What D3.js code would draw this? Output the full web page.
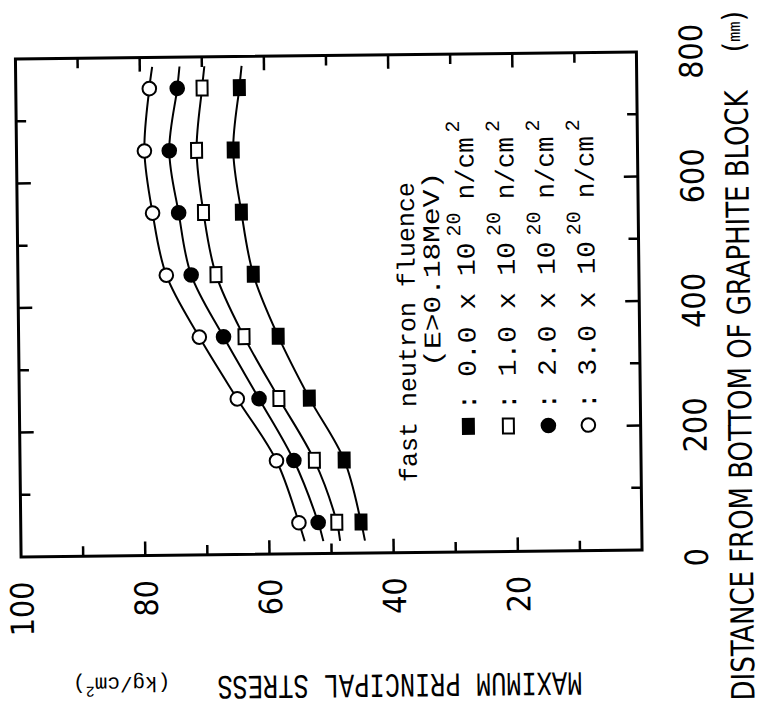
<!DOCTYPE html>
<html>
<head>
<meta charset="utf-8">
<script src="https://cdn.jsdelivr.net/npm/d3@7"></script>
<style>
  body { margin: 0; background: #fff; }
  svg { display: block; }
  .narrow { font-family: "Liberation Sans Narrow", "DejaVu Sans Condensed", "Roboto", sans-serif; }
  .mono { font-family: "Liberation Mono", "DejaVu Sans Mono", monospace; }
</style>
</head>
<body>
<script>
// distance from bottom of graphite block (mm) where stress was evaluated
const distances = [50, 150, 250, 350, 450, 550, 650, 750]
// maximum principal stress (kg/cm2), one list per fluence level
const stress00 = [45.2, 47.8, 53.3, 58.2, 62.1, 63.9, 65.1, 64.0]
const stress10 = [49.1, 52.6, 58.2, 63.7, 68.1, 70.0, 71.0, 70.0]
const stress20 = [52.1, 55.9, 61.4, 67.0, 72.1, 74.0, 75.4, 74.0]
const stress30 = [55.2, 58.7, 64.9, 70.9, 76.1, 78.2, 79.4, 78.5]
// where the drawn curves start/stop
const curveEndDist = [20, 785]
const curveEnd00 = [44.6, 63.6]
const curveEnd10 = [48.6, 69.6]
const curveEnd20 = [51.3, 73.6]
const curveEnd30 = [54.3, 78.0]

const fluenceLabels = ['0.0', '1.0', '2.0', '3.0']
const markerKinds = ['filledSquare', 'openSquare', 'filledCircle', 'openCircle']
const distTickLabels = [0, 200, 400, 600, 800]
const stressTickLabels = [20, 40, 60, 80, 100]

const series = [
  { vals: stress00, ends: curveEnd00, kind: markerKinds[0] },
  { vals: stress10, ends: curveEnd10, kind: markerKinds[1] },
  { vals: stress20, ends: curveEnd20, kind: markerKinds[2] },
  { vals: stress30, ends: curveEnd30, kind: markerKinds[3] }
]

const W = 772, H = 717
const svg = d3.select('body').append('svg')
  .attr('width', W)
  .attr('height', H)

// the whole figure is drawn upright, then turned on its side like the scan
const root = svg.append('g')
  .attr('transform', `rotate(-0.65 329 305) translate(0,${H}) rotate(-90)`)

const x = d3.scaleLinear().domain([0, 800]).range([163.5, 661.5])
const y = d3.scaleLinear().domain([0, 100]).range([639.25, 18.25])

// frame
root.append('rect')
  .attr('x', x(0)).attr('y', y(100))
  .attr('width', x(800) - x(0)).attr('height', y(0) - y(100))
  .attr('fill', 'none').attr('stroke', '#000').attr('stroke-width', 3)

// inward ticks
const tickG = root.append('g').attr('stroke', '#000').attr('stroke-width', 2.5)
const dTicks = d3.range(100, 800, 100)
dTicks.forEach(d => {
  const len = d % 200 === 0 ? 14 : 10
  tickG.append('line').attr('x1', x(d)).attr('x2', x(d)).attr('y1', y(100)).attr('y2', y(100) + len)
  tickG.append('line').attr('x1', x(d)).attr('x2', x(d)).attr('y1', y(0)).attr('y2', y(0) - len)
})
const sTicks = d3.range(10, 100, 10)
sTicks.forEach(s => {
  const len = s % 20 === 0 ? 14 : 10
  tickG.append('line').attr('y1', y(s)).attr('y2', y(s)).attr('x1', x(0)).attr('x2', x(0) + len)
  tickG.append('line').attr('y1', y(s)).attr('y2', y(s)).attr('x1', x(800)).attr('x2', x(800) - len)
})

// tick labels
root.append('g').selectAll('text')
  .data(distTickLabels)
  .join('text')
  .attr('class', 'narrow')
  .attr('x', d => x(d) - (d === 0 ? 8 : 0))
  .attr('y', 705)
  .attr('text-anchor', 'middle')
  .attr('font-size', 32)
  .text(d => d)

root.append('g').selectAll('text')
  .data(stressTickLabels)
  .join('text')
  .attr('class', 'narrow')
  .attr('x', 139)
  .attr('y', d => y(d) + 12)
  .attr('text-anchor', 'end')
  .attr('font-size', 32)
  .text(d => d)

// axis titles
root.append('text')
  .attr('class', 'narrow')
  .attr('x', 12).attr('y', 750)
  .attr('font-size', 32)
  .attr('textLength', 610).attr('lengthAdjust', 'spacingAndGlyphs')
  .text('DISTANCE FROM BOTTOM OF GRAPHITE BLOCK')
const mmT = root.append('text')
  .attr('x', 660).attr('y', 747)
mmT.append('tspan').attr('class', 'narrow').attr('font-size', 30).text('(')
mmT.append('tspan').attr('class', 'mono').attr('font-size', 17).attr('dy', -4).text('mm')
mmT.append('tspan').attr('class', 'narrow').attr('font-size', 30).attr('dy', 4).text(')')

root.append('text')
  .attr('class', 'mono')
  .attr('transform', 'translate(42,578) rotate(-90)')
  .attr('font-size', 34)
  .attr('textLength', 365).attr('lengthAdjust', 'spacingAndGlyphs')
  .text('MAXIMUM PRINCIPAL STRESS')
const unitT = root.append('text')
  .attr('class', 'mono')
  .attr('transform', 'translate(42,166) rotate(-90)')
  .attr('font-size', 21)
unitT.append('tspan').text('(kg/cm')
unitT.append('tspan').attr('dy', -9).attr('font-size', 15).text('2')
unitT.append('tspan').attr('dy', 9).text(')')

// curves
const line = d3.line()
  .x(d => x(d[0]))
  .y(d => y(d[1]))
  .curve(d3.curveCatmullRom.alpha(0.5))

series.forEach(s => {
  const pts = [[curveEndDist[0], s.ends[0]]]
    .concat(distances.map((d, i) => [d, s.vals[i]]))
    .concat([[curveEndDist[1], s.ends[1]]])
  root.append('path')
    .datum(pts)
    .attr('d', line)
    .attr('fill', 'none')
    .attr('stroke', '#000')
    .attr('stroke-width', 2)
})

function drawMarker(g, kind, cx, cy) {
  if (kind.endsWith('Square')) {
    g.append('rect')
      .attr('x', cx - 7.5).attr('y', cy - 5.5)
      .attr('width', 15).attr('height', 11)
      .attr('fill', kind === 'filledSquare' ? '#000' : '#fff')
      .attr('stroke', '#000').attr('stroke-width', 2)
  } else {
    g.append('circle')
      .attr('cx', cx).attr('cy', cy)
      .attr('r', 6.8)
      .attr('fill', kind === 'filledCircle' ? '#000' : '#fff')
      .attr('stroke', '#000').attr('stroke-width', 2)
  }
}

const markG = root.append('g')
series.forEach(s => {
  distances.forEach((d, i) => drawMarker(markG, s.kind, x(d), y(s.vals[i])))
})

// legend
const leg = root.append('g').attr('class', 'mono')
leg.append('text')
  .attr('x', 234).attr('y', 415)
  .attr('font-size', 25)
  .attr('textLength', 300).attr('lengthAdjust', 'spacingAndGlyphs')
  .text('fast neutron fluence')
leg.append('text')
  .attr('x', 349).attr('y', 440)
  .attr('font-size', 24)
  .attr('textLength', 195).attr('lengthAdjust', 'spacingAndGlyphs')
  .text('(E>0.18MeV)')

fluenceLabels.forEach((lab, i) => {
  const cy = 467 + 40 * i
  drawMarker(leg, markerKinds[i], 289, cy)
  leg.append('text')
    .attr('x', 305).attr('y', cy + 8)
    .attr('font-size', 26)
    .attr('textLength', 168).attr('lengthAdjust', 'spacingAndGlyphs')
    .text(`: ${lab} x 10`)
  leg.append('text')
    .attr('x', 479).attr('y', cy - 6)
    .attr('font-size', 20)
    .text('20')
  leg.append('text')
    .attr('x', 516).attr('y', cy + 8)
    .attr('font-size', 26)
    .attr('textLength', 62).attr('lengthAdjust', 'spacingAndGlyphs')
    .text('n/cm')
  leg.append('text')
    .attr('x', 583).attr('y', cy - 6)
    .attr('font-size', 20)
    .text('2')
})
</script>
</body>
</html>
